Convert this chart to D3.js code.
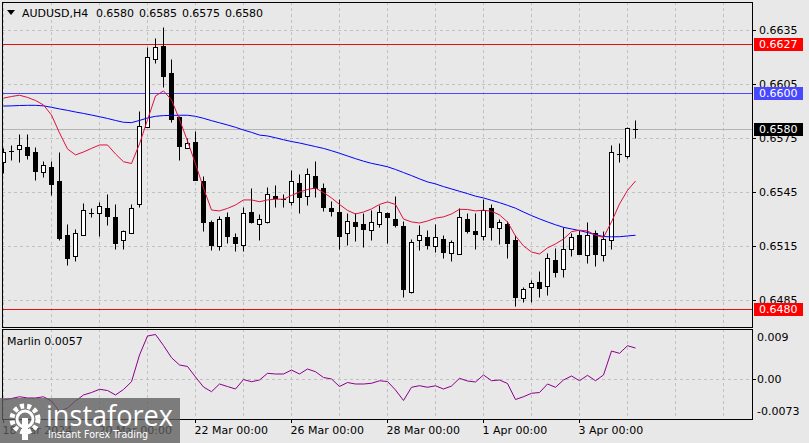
<!DOCTYPE html>
<html><head><meta charset="utf-8">
<script src="https://cdn.jsdelivr.net/npm/d3@7"></script>
<style>
html,body{margin:0;padding:0;background:#e8e8e8;}
svg{display:block;}
text{font-family:"DejaVu Sans",sans-serif;font-size:11px;fill:#000;}
</style></head><body>
<svg id="c" width="809" height="443"></svg>
<script>
const symbol = "AUDUSD,H4";
const days = ["18 Mar","19 Mar","20 Mar","21 Mar","22 Mar","25 Mar","26 Mar","27 Mar","28 Mar","29 Mar","1 Apr","2 Apr","3 Apr","4 Apr"];
const hours = ["00:00","04:00","08:00","12:00","16:00","20:00"];

const open = [0.65619,0.65677,0.65688,0.65701,0.65671,0.65561,0.65590,0.65512,0.65213,0.65098,
0.65211,0.65336,0.65333,0.65362,0.65313,0.65183,0.65222,0.65383,0.65810,0.66189,
0.66261,0.66110,0.65867,0.65697,0.65729,0.65512,0.65285,0.65150,0.65313,0.65200,
0.65159,0.65340,0.65272,0.65286,0.65429,0.65412,0.65397,0.65500,0.65427,0.65540,
0.65472,0.65361,0.65340,0.65222,0.65285,0.65274,0.65239,0.65272,0.65335,0.65301,
0.65263,0.64898,0.65183,0.65200,0.65150,0.65189,0.65111,0.65109,0.65300,0.65235,
0.65209,0.65361,0.65250,0.65272,0.65185,0.64861,0.64922,0.64950,0.64931,0.65074,
0.65022,0.65137,0.65211,0.65100,0.65222,0.65100,0.65183,0.65660,0.65649,0.65800];
const high = [0.65695,0.65712,0.65773,0.65773,0.65703,0.65622,0.65622,0.65671,0.65272,0.65248,
0.65390,0.65361,0.65397,0.65442,0.65386,0.65242,0.65385,0.65902,0.66257,0.66304,
0.66365,0.66187,0.65873,0.65749,0.65790,0.65538,0.65298,0.65320,0.65340,0.65224,
0.65370,0.65472,0.65329,0.65479,0.65492,0.65442,0.65573,0.65551,0.65584,0.65623,
0.65500,0.65401,0.65412,0.65333,0.65333,0.65333,0.65351,0.65379,0.65342,0.65431,
0.65289,0.65190,0.65268,0.65239,0.65275,0.65213,0.65185,0.65362,0.65333,0.65333,
0.65412,0.65386,0.65301,0.65292,0.65213,0.64926,0.64963,0.65013,0.65111,0.65139,
0.65259,0.65222,0.65240,0.65286,0.65240,0.65235,0.65712,0.65721,0.65812,0.65850];
const low = [0.65558,0.65629,0.65619,0.65636,0.65518,0.65536,0.65436,0.65185,0.65048,0.65070,
0.65211,0.65311,0.65207,0.65270,0.65137,0.65137,0.65222,0.65370,0.65810,0.66165,
0.66035,0.65838,0.65627,0.65697,0.65519,0.65236,0.65129,0.65129,0.65170,0.65122,
0.65122,0.65279,0.65185,0.65281,0.65370,0.65370,0.65381,0.65336,0.65381,0.65425,
0.65347,0.65320,0.65137,0.65156,0.65181,0.65148,0.65185,0.65259,0.65170,0.65259,
0.64870,0.64893,0.65129,0.65137,0.65120,0.65087,0.65070,0.65109,0.65222,0.65137,
0.65185,0.65185,0.65163,0.65087,0.64820,0.64843,0.64843,0.64870,0.64880,0.64981,
0.64981,0.65098,0.65109,0.65059,0.65042,0.65070,0.65137,0.65619,0.65638,0.65750];
const close = [0.65671,0.65680,0.65710,0.65658,0.65569,0.65599,0.65497,0.65194,0.65087,0.65222,
0.65350,0.65336,0.65372,0.65320,0.65170,0.65235,0.65361,0.65817,0.66199,0.66254,
0.66096,0.65858,0.65708,0.65721,0.65519,0.65286,0.65157,0.65300,0.65209,0.65170,
0.65335,0.65283,0.65301,0.65438,0.65420,0.65412,0.65511,0.65422,0.65549,0.65473,
0.65370,0.65347,0.65209,0.65289,0.65261,0.65248,0.65285,0.65339,0.65311,0.65270,
0.64911,0.65172,0.65211,0.65159,0.65200,0.65120,0.65172,0.65311,0.65236,0.65220,
0.65351,0.65259,0.65285,0.65170,0.64870,0.64911,0.64945,0.64920,0.65083,0.65009,
0.65133,0.65200,0.65109,0.65211,0.65109,0.65189,0.65671,0.65660,0.65805,0.65800];

const maFast = [0.65972,0.65981,0.65988,0.65976,0.65959,0.65934,0.65878,0.65779,0.65690,0.65657,
0.65673,0.65693,0.65712,0.65712,0.65662,0.65619,0.65609,0.65718,0.65851,0.65984,
0.66012,0.65962,0.65853,0.65734,0.65607,0.65473,0.65351,0.65346,0.65360,0.65379,
0.65407,0.65407,0.65397,0.65407,0.65411,0.65411,0.65432,0.65451,0.65465,0.65473,
0.65448,0.65418,0.65382,0.65349,0.65329,0.65340,0.65357,0.65382,0.65396,0.65382,
0.65301,0.65285,0.65279,0.65290,0.65306,0.65313,0.65329,0.65355,0.65354,0.65346,
0.65350,0.65344,0.65324,0.65285,0.65207,0.65152,0.65118,0.65107,0.65141,0.65163,
0.65190,0.65231,0.65239,0.65235,0.65211,0.65199,0.65285,0.65385,0.65460,0.65512];
const maSlow = [0.65928,0.65929,0.65931,0.65932,0.65932,0.65929,0.65921,0.65912,0.65904,0.65895,
0.65887,0.65878,0.65869,0.65859,0.65848,0.65838,0.65836,0.65848,0.65862,0.65871,
0.65875,0.65876,0.65877,0.65877,0.65871,0.65860,0.65847,0.65835,0.65823,0.65810,
0.65795,0.65782,0.65767,0.65762,0.65752,0.65741,0.65731,0.65723,0.65713,0.65703,
0.65693,0.65680,0.65666,0.65651,0.65636,0.65622,0.65610,0.65601,0.65591,0.65576,
0.65559,0.65542,0.65524,0.65507,0.65496,0.65481,0.65468,0.65455,0.65442,0.65428,
0.65418,0.65405,0.65392,0.65377,0.65361,0.65340,0.65320,0.65302,0.65285,0.65269,
0.65255,0.65246,0.65237,0.65226,0.65214,0.65204,0.65202,0.65203,0.65207,0.65211];
const marlin = [-0.00382,-0.00355,-0.00322,-0.00345,-0.00345,-0.00323,-0.00400,-0.00593,-0.00529,-0.00400,
-0.00290,-0.00245,-0.00186,-0.00208,-0.00290,-0.00190,-0.00047,0.00442,0.00790,0.00818,
0.00616,0.00393,0.00259,0.00232,0.00039,-0.00144,-0.00230,-0.00089,-0.00135,-0.00181,
-0.00007,-0.00047,-0.00016,0.00107,0.00094,0.00094,0.00167,0.00094,0.00186,0.00136,
0.00030,0.00003,-0.00135,-0.00062,-0.00089,-0.00089,-0.00076,-0.00030,-0.00043,-0.00199,
-0.00391,-0.00149,-0.00120,-0.00149,-0.00122,-0.00181,-0.00126,0.00015,-0.00034,-0.00052,
0.00076,-0.00029,-0.00016,-0.00080,-0.00373,-0.00322,-0.00259,-0.00245,-0.00089,-0.00149,
-0.00016,0.00058,-0.00029,0.00070,-0.00029,0.00076,0.00515,0.00473,0.00612,0.0057];

const priceTicks = [0.6635,0.6605,0.6575,0.6545,0.6515,0.6485];
const levelValues = [0.6627,0.6600,0.6480];
const levelKinds = ["red","blue","red"];
const bidPrice = 0.6580;
const marlinTicks = [0.009,0,-0.0073];
const marlinTickLabels = ["0.009","0.00","-0.0073"];
const timeLabels = ["18 Mar 2024","20 Mar 00:00","22 Mar 00:00","26 Mar 00:00","28 Mar 00:00","1 Apr 00:00","3 Apr 00:00"];
const timeLabelIdx = [0,12,24,36,48,60,72];

// categories (bar times)
const categories = [];
days.forEach(d => hours.forEach(h => categories.push(d + " " + h)));
const n = open.length;
const bars = d3.range(n).map(i => ({i, t: categories[i], o: open[i], h: high[i], l: low[i], c: close[i]}));

const svg = d3.select("#c");
const L = 2, R = 752, T = 2, B = 327, IT = 329, IB = 419;
const x = d3.scaleLinear().domain([0, 79]).range([3.5, 635.5]);
const y = d3.scaleLinear().domain([0.6485, 0.6635]).range([300.3, 30]);
const ym = d3.scaleLinear().domain([-0.0073, 0.009]).range([419, 330]);
const cy = p => Math.round(y(p)) + 0.5;
const cym = v => Math.round(ym(v)) + 0.5;

svg.append("rect").attr("width", 809).attr("height", 443).attr("fill", "#e8e8e8");

const defs = svg.append("defs");
defs.append("clipPath").attr("id", "mainClip").append("rect").attr("x", L + 1).attr("y", T + 1).attr("width", R - L - 1).attr("height", B - T - 1);
defs.append("clipPath").attr("id", "indClip").append("rect").attr("x", L + 1).attr("y", IT + 1).attr("width", R - L - 1).attr("height", IB - IT - 1);

const gridColor = "#c0c0c0";
const main = svg.append("g").attr("clip-path", "url(#mainClip)");
const ind = svg.append("g").attr("clip-path", "url(#indClip)");

// vertical grid (every day)
const vIdx = d3.range(0, 96, 6).filter(k => x(k) < R);
[main, ind].forEach((g, gi) => {
  g.selectAll("line.vg").data(vIdx).join("line").attr("class", "vg")
    .attr("x1", d => x(d)).attr("x2", d => x(d))
    .attr("y1", gi ? IT : T).attr("y2", gi ? IB : B)
    .attr("stroke", gridColor).attr("stroke-dasharray", "3,3");
});
main.selectAll("line.hg").data(priceTicks).join("line").attr("class", "hg")
  .attr("x1", L).attr("x2", R).attr("y1", d => cy(d)).attr("y2", d => cy(d))
  .attr("stroke", gridColor).attr("stroke-dasharray", "3,3");
ind.append("line").attr("x1", L).attr("x2", R).attr("y1", cym(0)).attr("y2", cym(0))
  .attr("stroke", gridColor).attr("stroke-dasharray", "3,3");

// bid line
main.append("line").attr("x1", L).attr("x2", R).attr("y1", cy(bidPrice)).attr("y2", cy(bidPrice))
  .attr("stroke", "#b4b4b4");

// horizontal levels
const lineColor = {red: "#e51010", blue: "#4a4aff"};
const boxColor = {red: "#ff0000", blue: "#4848ff"};
main.selectAll("line.lv").data(levelValues).join("line").attr("class", "lv")
  .attr("x1", L).attr("x2", R).attr("y1", d => cy(d)).attr("y2", d => cy(d))
  .attr("stroke", (d, i) => lineColor[levelKinds[i]]);

// candles
const cg = main.append("g");
bars.forEach(b => {
  const xc = x(b.i);
  cg.append("line").attr("x1", xc).attr("x2", xc).attr("y1", cy(b.h)).attr("y2", cy(b.l))
    .attr("stroke", "#000");
  const top = cy(Math.max(b.o, b.c)), bot = cy(Math.min(b.o, b.c));
  if (bot - top < 1) {
    cg.append("line").attr("x1", xc - 2.5).attr("x2", xc + 2.5).attr("y1", top).attr("y2", top).attr("stroke", "#000");
  } else {
    cg.append("rect").attr("x", xc - 2).attr("y", top).attr("width", 4).attr("height", bot - top)
      .attr("fill", b.c >= b.o ? "#fff" : "#000").attr("stroke", "#000");
  }
});

// moving averages
const line = d3.line().x((d, i) => x(i)).y(d => y(d));
main.append("path").datum(maSlow).attr("d", line).attr("fill", "none").attr("stroke", "#0000ff").attr("stroke-width", 1);
main.append("path").datum(maFast).attr("d", line).attr("fill", "none").attr("stroke", "#e0103c").attr("stroke-width", 1);

// marlin
const mline = d3.line().x((d, i) => x(i)).y(d => ym(d));
ind.append("path").datum(marlin).attr("d", mline).attr("fill", "none").attr("stroke", "#8b008b").attr("stroke-width", 1);

// borders
svg.append("rect").attr("x", L + 0.5).attr("y", T + 0.5).attr("width", R - L).attr("height", B - T).attr("fill", "none").attr("stroke", "#000");
svg.append("rect").attr("x", L + 0.5).attr("y", IT + 0.5).attr("width", R - L).attr("height", IB - IT).attr("fill", "none").attr("stroke", "#000");

// price axis
const ax = svg.append("g");
priceTicks.forEach(p => {
  ax.append("line").attr("x1", R).attr("x2", R + 4).attr("y1", cy(p)).attr("y2", cy(p)).attr("stroke", "#000");
  ax.append("text").attr("x", 759).attr("y", cy(p)).attr("dy", "0.36em").text(p.toFixed(4));
});
levelValues.forEach((v, i) => {
  const yy = Math.round(y(v));
  ax.append("rect").attr("x", 754).attr("y", yy - 6).attr("width", 49).attr("height", 13).attr("fill", boxColor[levelKinds[i]]);
  ax.append("text").attr("x", 759).attr("y", yy + 0.5).attr("dy", "0.36em").style("fill", "#fff").text(v.toFixed(4));
});
{
  const yy = Math.round(y(bidPrice));
  ax.append("rect").attr("x", 754).attr("y", yy - 6).attr("width", 49).attr("height", 13).attr("fill", "#000");
  ax.append("text").attr("x", 759).attr("y", yy + 0.5).attr("dy", "0.36em").style("fill", "#fff").text(bidPrice.toFixed(4));
}

// marlin axis
marlinTicks.forEach((v, i) => {
  const yy = Math.max(IT + 8, Math.min(IB - 8, ym(v)));
  ax.append("text").attr("x", 757).attr("y", yy).attr("dy", "0.36em").text(marlinTickLabels[i]);
});
ax.append("line").attr("x1", R).attr("x2", R + 4).attr("y1", cym(0)).attr("y2", cym(0)).attr("stroke", "#000");

// time axis
timeLabelIdx.forEach((k, i) => {
  ax.append("line").attr("x1", x(k)).attr("x2", x(k)).attr("y1", IB).attr("y2", IB + 4).attr("stroke", "#000");
  ax.append("text").attr("x", x(k) - 1).attr("y", 434).text(timeLabels[i]);
});

// header
const last = bars[n - 1];
svg.append("path").attr("d", "M7,10 L15,10 L11,15 Z").attr("fill", "#000");
svg.append("text").attr("x", 22).attr("y", 17).text(symbol);
[last.o, last.h, last.l, last.c].forEach((v, k) => {
  svg.append("text").attr("x", 96 + 43 * k).attr("y", 17).attr("textLength", 38).text(v.toFixed(4));
});
svg.append("text").attr("x", 7).attr("y", 345).text("Marlin " + marlin[n - 1].toFixed(4));

// watermark
const wm = svg.append("g");
wm.append("rect").attr("x", 0).attr("y", 398).attr("width", 180).attr("height", 45).attr("fill", "#5e5e5e").attr("opacity", 0.78);
wm.append("circle").attr("cx", 25).attr("cy", 419).attr("r", 13).attr("fill", "none").attr("stroke", "#fff").attr("stroke-width", 5).attr("stroke-dasharray", "4,3");
wm.append("circle").attr("cx", 25).attr("cy", 419).attr("r", 8).attr("fill", "none").attr("stroke", "#fff").attr("stroke-width", 3);
wm.append("rect").attr("x", 22).attr("y", 418).attr("width", 6).attr("height", 22).attr("fill", "#fff");
wm.append("text").attr("x", 46).attr("y", 426).attr("textLength", 127).attr("lengthAdjust", "spacingAndGlyphs")
  .style("font-size", "30px").style("font-family", "'Open Sans',sans-serif").style("fill", "#fff").text("instaforex");
wm.append("text").attr("x", 48).attr("y", 438).attr("textLength", 100).attr("lengthAdjust", "spacingAndGlyphs")
  .style("font-size", "11px").style("fill", "#fff").text("Instant Forex Trading");
</script>
</body></html>
